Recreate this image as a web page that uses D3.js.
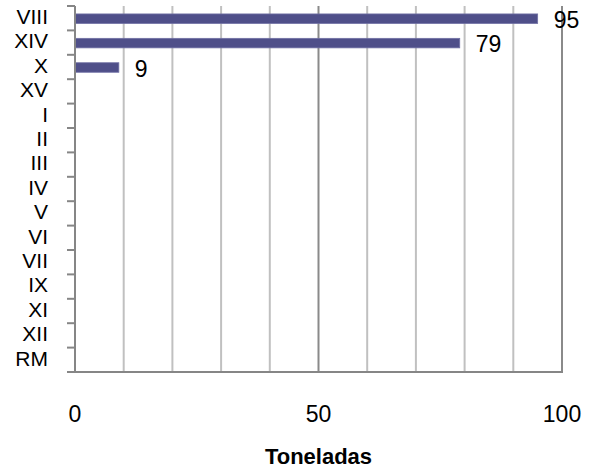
<!DOCTYPE html>
<html>
<head>
<meta charset="utf-8">
<script src="https://cdn.jsdelivr.net/npm/d3@7"></script>
<style>
  body { margin: 0; background: #fff; }
  svg { display: block; }
</style>
</head>
<body>
<script>
var categories = ["VIII", "XIV", "X", "XV", "I", "II", "III", "IV", "V", "VI", "VII", "IX", "XI", "XII", "RM"];
var values = [95, 79, 9, 0, 0, 0, 0, 0, 0, 0, 0, 0, 0, 0, 0];
var xTicks = [0, 50, 100];
var gridTicks = [10, 20, 30, 40, 60, 70, 80, 90];
var axisTitle = "Toneladas";

function drawChart() {
  var width = 592, height = 472;
  var left = 75, right = 562, top = 6, bottom = 372;

  var svg = d3.select("body").append("svg")
    .attr("width", width)
    .attr("height", height);

  var x = d3.scaleLinear().domain([0, 100]).range([left, right]);
  var y = d3.scaleBand().domain(categories).range([top, bottom]);

  // minor gridlines
  svg.append("g").selectAll("line")
    .data(gridTicks)
    .enter().append("line")
    .attr("x1", function(d) { return x(d); })
    .attr("x2", function(d) { return x(d); })
    .attr("y1", top)
    .attr("y2", bottom)
    .attr("stroke", "#c0c0c0")
    .attr("stroke-width", 2);

  // major gridlines (50, 100)
  svg.append("g").selectAll("line")
    .data([50, 100])
    .enter().append("line")
    .attr("x1", function(d) { return x(d); })
    .attr("x2", function(d) { return x(d); })
    .attr("y1", top)
    .attr("y2", bottom)
    .attr("stroke", "#8a8a8a")
    .attr("stroke-width", 2);

  // bars
  var barH = y.bandwidth() * 0.39;
  svg.append("g").selectAll("rect")
    .data(values)
    .enter().filter(function(d) { return d > 0; })
    .append("rect")
    .attr("x", x(0))
    .attr("y", function(d, i) { return y(categories[i]) + (y.bandwidth() - barH) / 2 + 0.5; })
    .attr("width", function(d) { return x(d) - x(0); })
    .attr("height", barH)
    .attr("fill", "#4f4f89")
    .attr("stroke", "#7070a4")
    .attr("stroke-width", 0.8);

  // value labels
  svg.append("g").selectAll("text")
    .data(values)
    .enter().filter(function(d) { return d > 0; })
    .append("text")
    .attr("x", function(d) { return x(d) + 16; })
    .attr("y", function(d, i) { return y(categories[i]) + y.bandwidth() / 2 + 1.5; })
    .attr("dy", "0.35em")
    .attr("font-family", "Liberation Sans, Arial, sans-serif")
    .attr("font-size", 23)
    .attr("fill", "#000")
    .text(function(d) { return d; });

  // category axis
  var boundaries = categories.map(function(c) { return y(c); }).concat([bottom]);
  svg.append("g").selectAll("line")
    .data(boundaries)
    .enter().append("line")
    .attr("x1", left - 8)
    .attr("x2", left)
    .attr("y1", function(d) { return d; })
    .attr("y2", function(d) { return d; })
    .attr("stroke", "#868686")
    .attr("stroke-width", 2);

  svg.append("line")
    .attr("x1", left).attr("x2", left)
    .attr("y1", top).attr("y2", bottom)
    .attr("stroke", "#868686")
    .attr("stroke-width", 2);

  svg.append("line")
    .attr("x1", left - 8).attr("x2", right + 1)
    .attr("y1", bottom).attr("y2", bottom)
    .attr("stroke", "#868686")
    .attr("stroke-width", 2);

  svg.append("g").selectAll("text")
    .data(categories)
    .enter().append("text")
    .attr("x", 48)
    .attr("y", function(d) { return y(d) + y.bandwidth() / 2 - 1.5; })
    .attr("dy", "0.35em")
    .attr("text-anchor", "end")
    .attr("font-family", "Liberation Sans, Arial, sans-serif")
    .attr("font-size", 21)
    .attr("fill", "#000")
    .text(function(d) { return d; });

  // value axis labels
  svg.append("g").selectAll("text")
    .data(xTicks)
    .enter().append("text")
    .attr("x", function(d) { return x(d); })
    .attr("y", 422)
    .attr("text-anchor", "middle")
    .attr("font-family", "Liberation Sans, Arial, sans-serif")
    .attr("font-size", 23)
    .attr("fill", "#000")
    .text(function(d) { return d; });

  svg.append("text")
    .attr("x", (left + right) / 2)
    .attr("y", 464)
    .attr("text-anchor", "middle")
    .attr("font-family", "Liberation Sans, Arial, sans-serif")
    .attr("font-weight", "bold")
    .attr("font-size", 22)
    .attr("fill", "#000")
    .text(axisTitle);
}

document.addEventListener("DOMContentLoaded", function(event) {
  drawChart();
});
</script>
</body>
</html>
